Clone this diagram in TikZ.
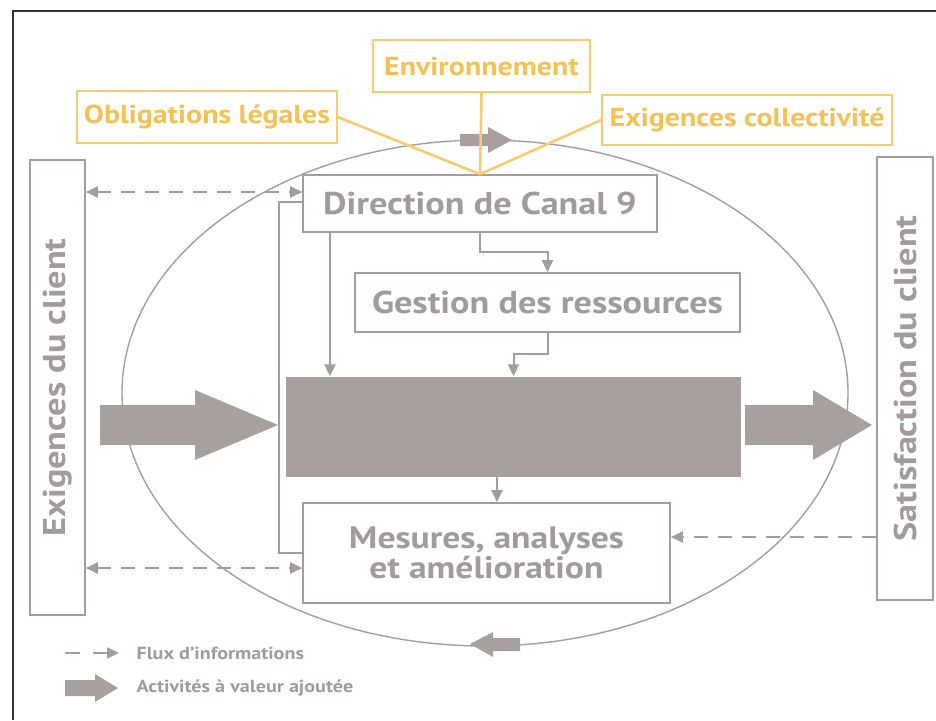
\documentclass[tikz,border=0pt]{standalone}
\usepackage{fontspec}
\setmainfont{PT Sans}[FakeStretch=1.15]
\usetikzlibrary{arrows.meta,calc}
\definecolor{gr}{HTML}{A59D9D}
\definecolor{grt}{HTML}{A39B9B}
\definecolor{dk}{HTML}{A8A09F}
\definecolor{yl}{HTML}{F4C155}
\definecolor{ylb}{HTML}{F7CB6E}
\tikzset{
  gbox/.style={draw=gr, line width=1.6pt, inner sep=0pt, text=grt, font=\bfseries\fontsize{31.5}{31.5}\selectfont},
  ybox/.style={draw=ylb, line width=1.6pt, inner sep=0pt, text=yl, font=\bfseries\fontsize{26}{26}\selectfont},
  arr/.style={draw=gr, line width=2pt, -{Triangle[length=12pt,width=11pt]}},
  dsh/.style={draw=gr, line width=2pt, dash pattern=on 14pt off 10pt},
  ylin/.style={draw=ylb, line width=2.6pt},
  blk/.style={fill=dk, draw=none},
  vtext/.style={text=grt, font=\bfseries\fontsize{31.5}{31.5}\selectfont, rotate=90},
  legtext/.style={anchor=west, text=grt, font=\bfseries\fontsize{17.5}{17.5}\selectfont}
}
\begin{document}
\begin{tikzpicture}[x=1pt,y=-1pt]
\useasboundingbox (0,0) rectangle (936,720);
\fill[white] (0,0) rectangle (936,720);
\draw[black!80, line width=1.5pt] (13,720) -- (13,11) -- (936,11);

% ellipse
\draw[gr, line width=1.4pt] (485,393) ellipse [x radius=363pt, y radius=253pt];
\fill[dk] (460,134) -- (488,134) -- (488,127) -- (512,140) -- (488,153) -- (488,146) -- (460,146) -- cycle;
\fill[dk] (520,638) -- (493,638) -- (493,632) -- (470,644) -- (493,657) -- (493,651) -- (520,651) -- cycle;

% side boxes
\node[gbox, minimum width=55pt, minimum height=455pt] (exc) at (57.5,387.5) {};
\node[vtext] (exct) at (exc.center) {Exigences du client};
\node[gbox, minimum width=56pt, minimum height=443pt] (sat) at (905,378.5) {};
\node[vtext] (satt) at (sat.center) {Satisfaction du client};

% central boxes
\node[gbox, minimum width=354pt, minimum height=57pt] (dir) at (480,203.5) {Direction de Canal 9};
\node[gbox, minimum width=385pt, minimum height=59pt] (ges) at (547.5,302.5) {Gestion des ressources};
\node[blk, minimum width=455pt, minimum height=100pt, inner sep=0pt] (dark) at (513.5,426.5) {};
\node[gbox, minimum width=367pt, minimum height=100pt, align=center, font=\bfseries\fontsize{31}{25}\selectfont] (mes) at (486.5,553) {Mesures, analyses\\et amélioration};

% yellow boxes
\node[ybox, minimum width=260pt, minimum height=52pt] (obl) at (207,117) {Obligations légales};
\node[ybox, minimum width=217pt, minimum height=52pt] (env) at (481.5,66) {Environnement};
\node[ybox, minimum width=290pt, minimum height=50pt] (col) at (747,120) {Exigences collectivité};
\draw[ylin] (obl.east) -- (dir.north);
\draw[ylin] (env.south) -- (dir.north);
\draw[ylin] (col.west) -- (dir.north);

% solid connectors
\draw[arr] ([xshift=-150pt]dir.south) -- ([xshift=-150pt]dir.south |- dark.north);
\draw[arr] (dir.south) -- ++(0,19) -| (ges.north);
\draw[arr] (ges.south) -- ++(0,21) -| (dark.north);
\draw[arr] ([xshift=-16.5pt]dark.south) -- ([xshift=-16.5pt]dark.south |- mes.north);
\draw[draw=gr, line width=2pt] ([yshift=1.5pt]dir.west) -- ++(-23,0) |- (mes.west);

% dashed info flows
\draw[dsh, {Triangle[length=12pt,width=11pt]}-{Triangle[length=12pt,width=11pt]}] (exc.east |- 0,192) -- (dir.west |- 0,192);
\draw[dsh, {Triangle[length=12pt,width=11pt]}-{Triangle[length=12pt,width=11pt]}] (exc.east |- 0,568) -- (mes.west |- 0,568);
\draw[dsh, -{Triangle[length=12pt,width=11pt]}] (sat.west |- 0,537) -- (mes.east |- 0,537);

% big value-added arrows
\fill[dk] (100,405) -- (195,405) -- (195,390) -- (278,425) -- (195,460) -- (195,445) -- (100,445) -- cycle;
\fill[dk] (745,405) -- (813,405) -- (813,390) -- (872,425) -- (813,460) -- (813,445) -- (745,445) -- cycle;

% legend
\coordinate (l1) at (65,653);
\draw[draw=gr, line width=2pt] (l1) -- ++(15,0);
\draw[arr] (93,653) -- (119,653);
\fill[dk] (65,680) -- (95,680) -- (95,674) -- (118,688) -- (95,702) -- (95,696) -- (65,696) -- cycle;
\node[legtext] (lg1) at (133,653) {Flux d’informations};
\node[legtext] (lg2) at (133,688) {Activités à valeur ajoutée};
\end{tikzpicture}
\end{document}
